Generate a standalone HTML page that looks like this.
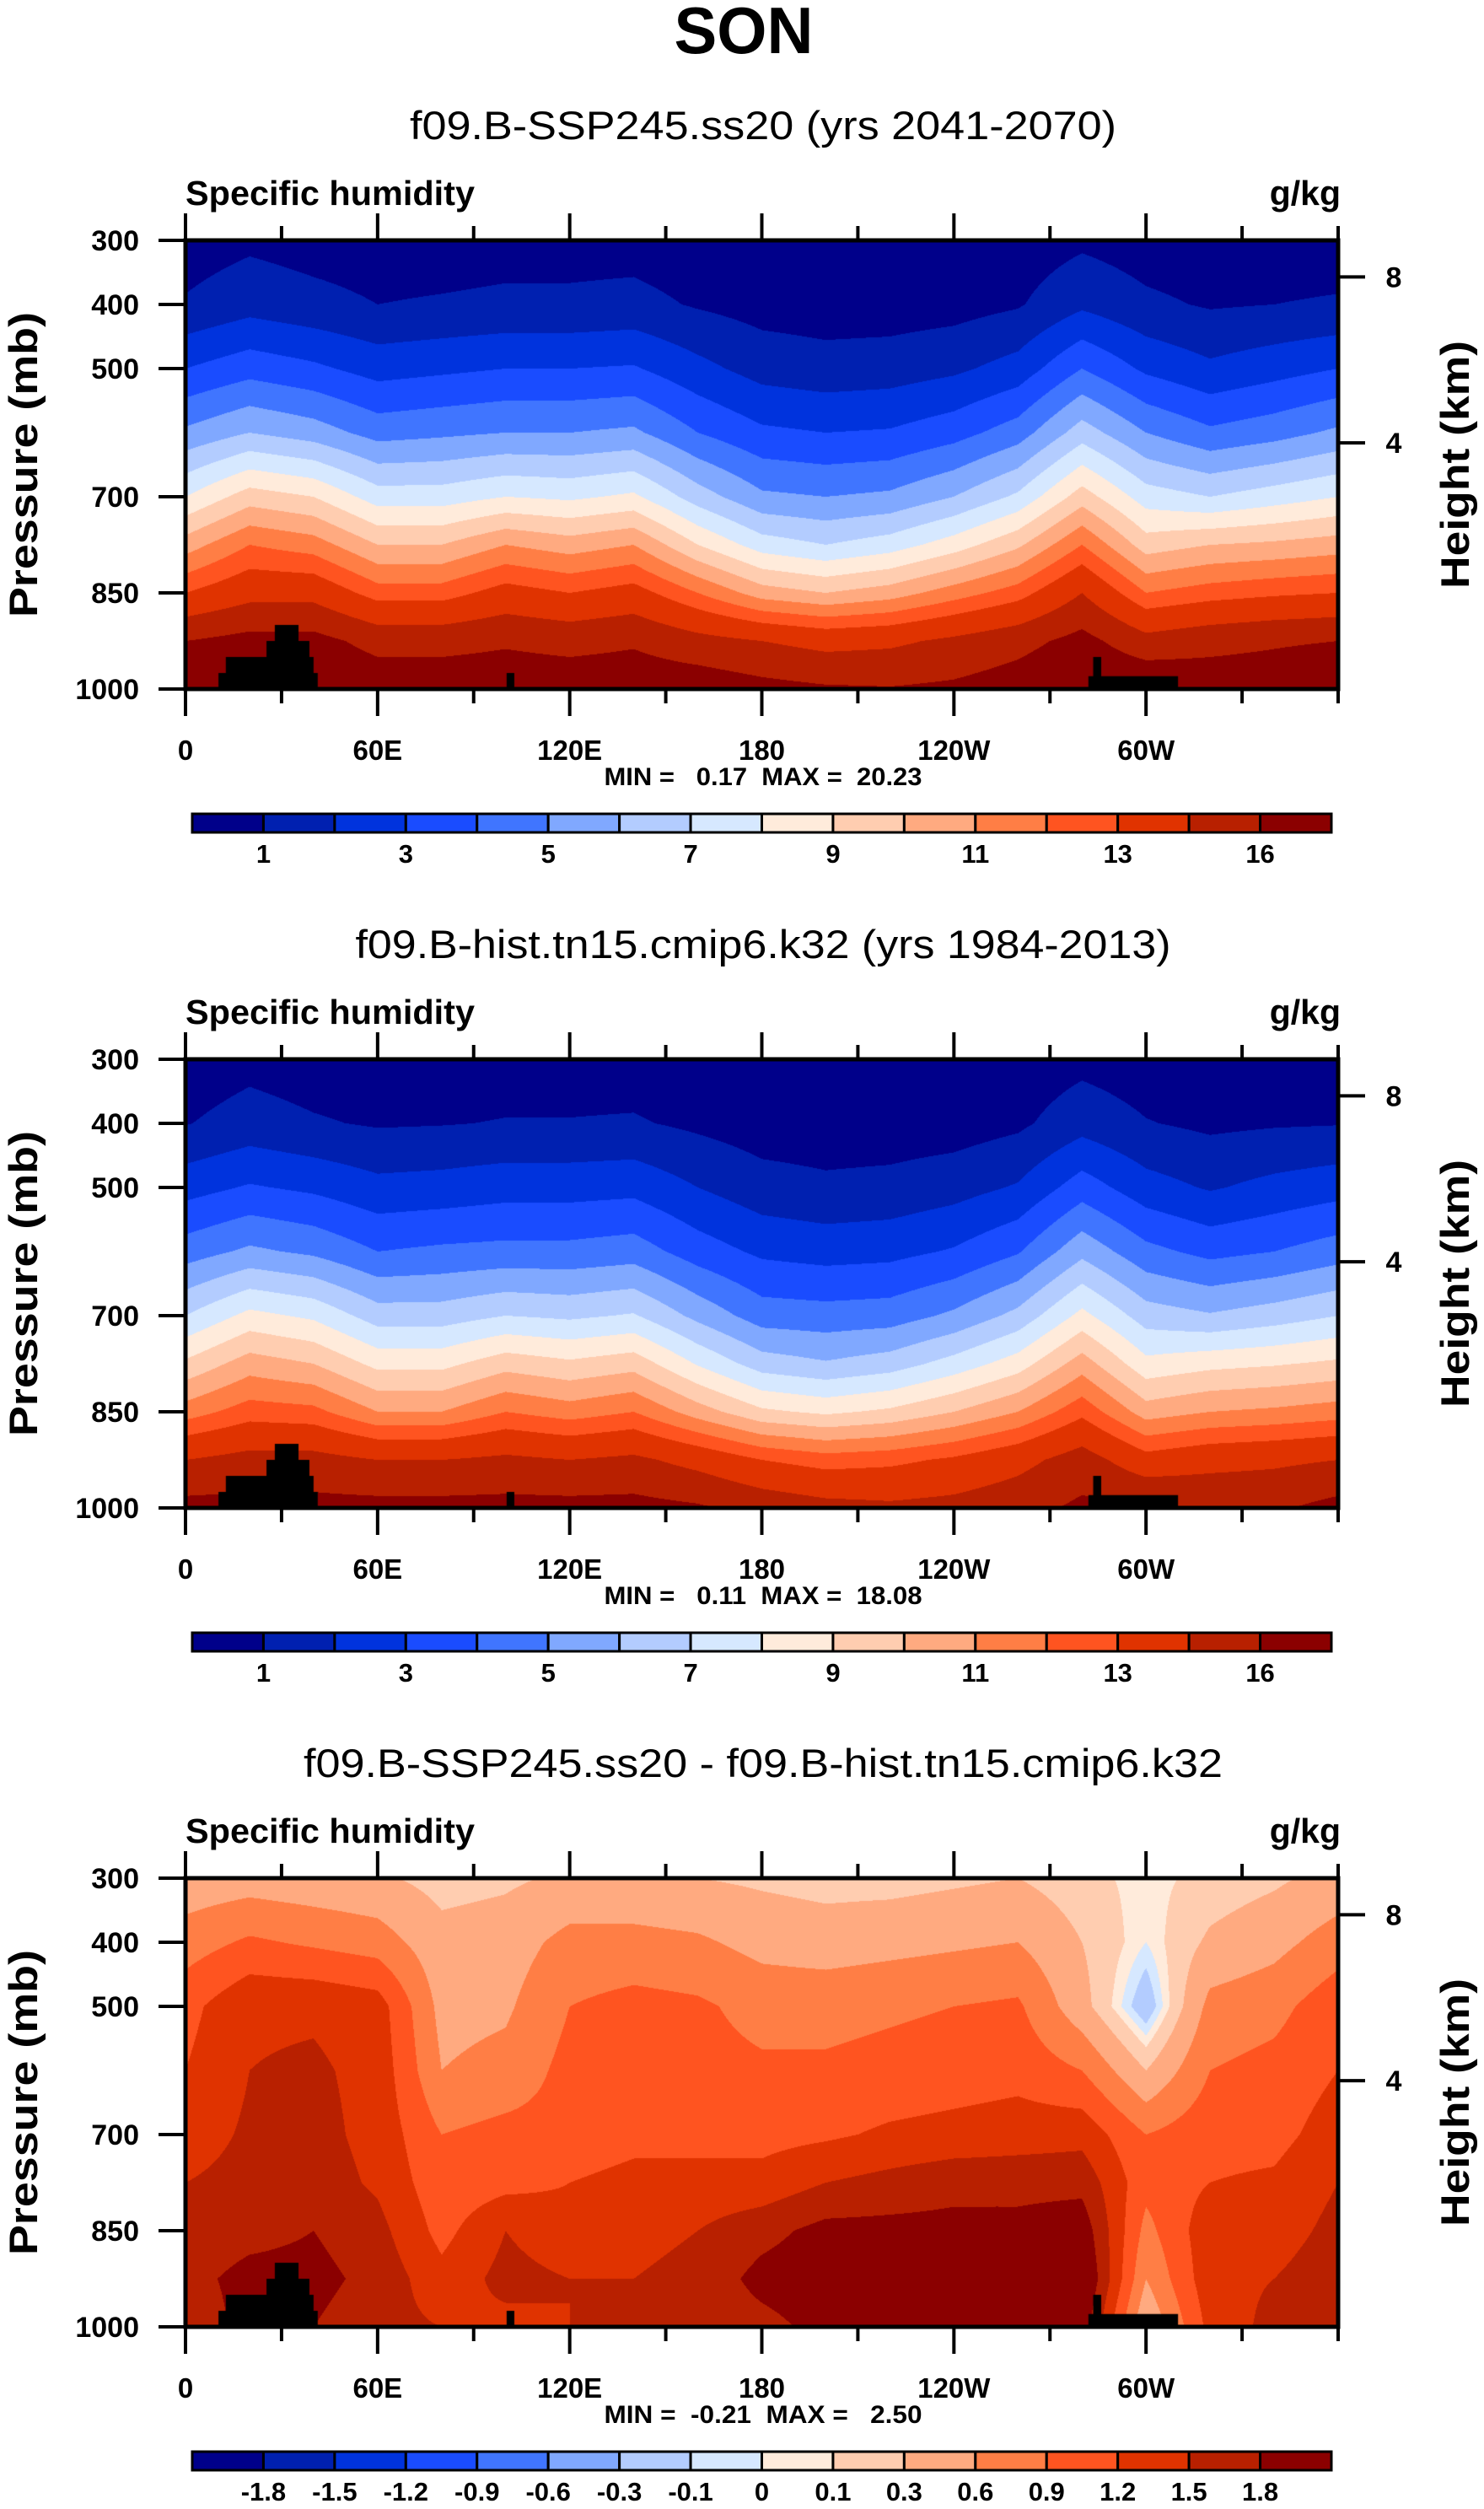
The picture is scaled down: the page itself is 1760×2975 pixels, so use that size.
<!DOCTYPE html>
<html><head><meta charset="utf-8"><title>SON Specific humidity</title>
<style>
html,body{margin:0;padding:0;background:#fff;}
#wrap{position:relative;width:1760px;height:2975px;overflow:hidden;font-family:"Liberation Sans",Arial,sans-serif;}
canvas{position:absolute;}
svg{position:absolute;left:0;top:0;}
</style></head>
<body>
<div id="wrap">
<canvas id="c0" width="1367" height="532" style="left:220px;top:285px"></canvas>
<canvas id="c1" width="1367" height="532" style="left:220px;top:1256px"></canvas>
<canvas id="c2" width="1367" height="532" style="left:220px;top:2227px"></canvas>
<svg id="ov" width="1760" height="2975"></svg>
</div>
<script>
// ---- data ----
const lonGrid = [0,20,40,60,80,100,120,140,160,180,200,220,240,260,280,300,320,340,360];
const pGrid = [300,400,500,600,700,775,850,925,1000];
const qSSP = [
[0.5,1.1,3,5.2,8,10.5,13,16,17.5],
[0.8,1.6,3.6,6,9.5,12,14,16.5,17.5],
[0.6,1.3,3.2,5.5,9,11.5,14,16.5,17.5],
[0.5,1.0,2.6,4.6,7.5,10,12.5,15.5,17],
[0.5,1.1,2.8,4.8,7.5,10,12.5,15.5,17],
[0.6,1.2,3,5,8,11,13.5,15.8,17],
[0.6,1.2,3,5,7.8,10.5,13,15.5,17],
[0.6,1.3,3.1,5.2,8.2,11,13.5,15.8,17],
[0.4,0.9,2.3,4,6.5,9,12,15,17],
[0.3,0.6,1.6,3.2,5.2,7.5,10.5,14.5,16.5],
[0.3,0.5,1.4,3,5,7,10,14,16.2],
[0.3,0.5,1.5,3.1,5.2,7.5,10.5,14.2,16.1],
[0.3,0.6,1.8,3.6,6,8.5,11.5,14.8,16.3],
[0.4,0.9,2.4,4.5,7.2,9.8,12.5,15.5,16.8],
[0.8,1.8,4,6.5,9.5,12,14.5,16.5,17.5],
[0.5,1.2,2.8,5,7.5,9.5,12,15,17.5],
[0.4,0.9,2.2,4.2,7,10,12.5,15.5,17],
[0.5,1,2.6,4.6,7.5,10.2,12.8,15.8,17],
[0.5,1.1,3,5.2,8,10.5,13,16,17.5]];
const qHist = [
[0.4,0.95,2.6,4.5,7,9.2,11.5,14.5,16.5],
[0.7,1.4,3.1,5.2,8.3,10.5,12.5,15,16.5],
[0.5,1.1,2.8,4.8,7.8,10,12.3,15,16.5],
[0.4,0.9,2.3,4,6.5,8.7,11,14.5,16.5],
[0.4,0.95,2.4,4.2,6.5,8.7,11,14.5,16.5],
[0.5,1.05,2.6,4.3,7,9.6,12,14.8,16.5],
[0.5,1.05,2.6,4.3,6.8,9.2,11.5,14.5,16.5],
[0.5,1.1,2.7,4.5,7.1,9.6,12,14.8,16.5],
[0.35,0.8,2,3.5,5.7,7.9,10.5,14,16.2],
[0.25,0.5,1.4,2.8,4.5,6.5,9.2,13,15.5],
[0.25,0.45,1.2,2.6,4.4,6.1,8.8,12.5,15],
[0.25,0.45,1.3,2.7,4.5,6.5,9.2,12.7,14.8],
[0.25,0.5,1.6,3.1,5.2,7.4,10,13.2,15],
[0.35,0.8,2.1,3.9,6.3,8.5,11,14,15.5],
[0.7,1.6,3.5,5.7,8.3,10.5,12.7,15.2,16.3],
[0.45,1.05,2.4,4.3,6.5,8.3,10.5,13.5,16.3],
[0.35,0.8,1.9,3.7,6.1,8.7,11,14,15.8],
[0.4,0.9,2.3,4,6.5,8.9,11.2,14.2,15.8],
[0.4,0.95,2.6,4.5,7,9.2,11.5,14.5,16.5]];
const qDiff = [
[0.4,0.75,1.1,1.2,1.35,1.5,1.6,1.7,1.6],
[0.45,0.95,1.45,1.5,1.55,1.6,1.7,1.9,1.9],
[0.4,0.85,1.45,1.55,1.6,1.65,1.8,1.9,1.8],
[0.35,0.75,1.35,1.4,1.4,1.45,1.6,1.7,1.6],
[0.2,0.4,0.5,0.6,0.9,1.0,1.1,1.3,1.5],
[0.25,0.45,0.55,0.7,1.0,1.1,1.5,1.6,1.4],
[0.35,0.7,0.9,1.0,1.0,1.2,1.3,1.5,1.5],
[0.35,0.7,1.0,1.0,1.1,1.3,1.4,1.5,1.5],
[0.3,0.65,0.95,1.0,1.1,1.3,1.5,1.6,1.6],
[0.25,0.5,0.8,0.95,1.1,1.3,1.7,1.9,1.7],
[0.2,0.45,0.8,0.95,1.15,1.5,1.9,2.0,1.9],
[0.2,0.5,0.85,1.0,1.25,1.6,1.9,2.1,1.9],
[0.25,0.55,0.9,1.05,1.3,1.7,1.9,2.1,1.9],
[0.3,0.6,0.95,1.1,1.35,1.7,1.9,2.0,1.8],
[0.15,0.3,0.4,0.9,1.4,1.7,2.0,2.2,2.0],
[0.05,0.0,-0.25,0.3,0.9,1.0,0.8,0.6,0.3],
[0.15,0.35,0.7,0.9,1.1,1.2,1.4,1.4,1.3],
[0.25,0.5,0.8,1.0,1.1,1.25,1.35,1.5,1.6],
[0.4,0.75,1.1,1.2,1.35,1.5,1.6,1.7,1.6]];
const levelsQ = [1,2,3,4,5,6,7,8,9,10,11,12,13,14.5,16];
const labelsQ = ["1","","3","","5","","7","","9","","11","","13","","16"];
const levelsD = [-1.8,-1.5,-1.2,-0.9,-0.6,-0.3,-0.1,0,0.1,0.3,0.6,0.9,1.2,1.5,1.8];
const labelsD = ["-1.8","-1.5","-1.2","-0.9","-0.6","-0.3","-0.1","0","0.1","0.3","0.6","0.9","1.2","1.5","1.8"];
const palette = ["#00008a","#0020b0","#0033dd","#1a4cff","#4075ff","#80a8ff","#b3ccff","#d6e8ff","#ffebdb","#ffcdb0","#ffaa80","#ff7e45","#ff5420","#e03300","#b82000","#8b0000"];
const topoStart = [10.3,12.6,25.3,27.9,100.3,282,283.5];
const topoEnd   = [41.3,40,38.7,35.3,102.7,310,286];
const topoP     = [975,950,925,900,975,980,950];
const xTickLon = [0,60,120,180,240,300];
const xTickLab = ["0","60E","120E","180","120W","60W"];
const yTickP = [300,400,500,700,850,1000];
const hTickKm = [8,4];
const hTickP = [357,616];
const titles = ["f09.B-SSP245.ss20 (yrs 2041-2070)","f09.B-hist.tn15.cmip6.k32 (yrs 1984-2013)","f09.B-SSP245.ss20 - f09.B-hist.tn15.cmip6.k32"];
const minmax = ["MIN =   0.17  MAX =  20.23","MIN =   0.11  MAX =  18.08","MIN =  -0.21  MAX =   2.50"];

// ---- geometry ----
const X0=220, W=1367, H=532, T0=285, DY=971;
const xOf = lon => X0 + lon/360*W;
const yOf = (p,k) => T0 + k*DY + (p-300)/700*H;

function hex(c){return [parseInt(c.substr(1,2),16),parseInt(c.substr(3,2),16),parseInt(c.substr(5,2),16)];}
const palRGB = palette.map(hex);

function sample(grid, lon, p){
  let fi = lon/20; let i=Math.min(Math.floor(fi),lonGrid.length-2); let u=fi-i;
  let j=0; while(j<pGrid.length-2 && p>pGrid[j+1]) j++;
  let v=(p-pGrid[j])/(pGrid[j+1]-pGrid[j]);
  const a=grid[i][j], b=grid[i+1][j], c=grid[i][j+1], d=grid[i+1][j+1];
  return (a*(1-u)+b*u)*(1-v)+(c*(1-u)+d*u)*v;
}
function render(id, grid, levels){
  const cv=document.getElementById(id), ctx=cv.getContext('2d');
  const img=ctx.createImageData(W,H);
  for(let y=0;y<H;y++){
    const p=300+(y+0.5)/H*700;
    for(let x=0;x<W;x++){
      const lon=(x+0.5)/W*360;
      const q=sample(grid,lon,p);
      let k=0; while(k<levels.length && q>=levels[k]) k++;
      const c=palRGB[k], o=(y*W+x)*4;
      img.data[o]=c[0];img.data[o+1]=c[1];img.data[o+2]=c[2];img.data[o+3]=255;
    }
  }
  ctx.putImageData(img,0,0);
  ctx.fillStyle="#000";
  for(let t=0;t<topoStart.length;t++){
    const x1=topoStart[t]/360*W, x2=topoEnd[t]/360*W, yy=(topoP[t]-300)/700*H;
    ctx.fillRect(x1,yy,x2-x1,H-yy);
  }
}
render('c0',qSSP,levelsQ);
render('c1',qHist,levelsQ);
render('c2',qDiff,levelsD);

// ---- overlay ----
const NS="http://www.w3.org/2000/svg", svg=document.getElementById('ov');
function mk(tag,attrs,parent){const e=document.createElementNS(NS,tag);for(const k in attrs)e.setAttribute(k,attrs[k]);(parent||svg).appendChild(e);return e;}
function txt(s,attrs,parent){const e=mk('text',attrs,parent);e.textContent=s;return e;}

const main=txt("SON",{x:882,y:63,"text-anchor":"middle","font-size":78,"font-weight":"bold",textLength:165,lengthAdjust:"spacingAndGlyphs"});



const widths=[838,967,1090];
for(let k=0;k<3;k++){
  const g=mk('g',{});
  
  
  const off=k*DY, top=T0+off, bot=top+H;
  const t=txt(titles[k],{x:905,y:165+off,"text-anchor":"middle","font-size":47,textLength:widths[k],lengthAdjust:"spacingAndGlyphs"},g);
  
  
  const l=txt("Specific humidity",{x:220,y:243+off,"font-size":41,"font-weight":"bold",textLength:343,lengthAdjust:"spacingAndGlyphs"},g);
  
  
  const u=txt("g/kg",{x:1590,y:243+off,"text-anchor":"end","font-size":41,"font-weight":"bold"},g);
  
  
  const fr=mk('rect',{x:X0,y:top,width:W,height:H,fill:"none",stroke:"#000","stroke-width":5},g);
  
  
  for(let lon=0;lon<=360;lon+=30){
    const major=xTickLon.indexOf(lon)>=0, len=major?32:17, x=xOf(lon);
    const a=mk('line',{x1:x,x2:x,y1:top,y2:top-len,stroke:"#000","stroke-width":4},g);
    
    
    const b=mk('line',{x1:x,x2:x,y1:bot,y2:bot+len,stroke:"#000","stroke-width":4},g);
    
    
  }
  xTickLon.forEach((lon,i)=>{
    const e=txt(xTickLab[i],{x:xOf(lon),y:bot+84,"text-anchor":"middle","font-size":33,"font-weight":"bold"},g);
    
    
  });
  yTickP.forEach(p=>{
    const y=yOf(p,k);
    const a=mk('line',{x1:X0,x2:X0-32,y1:y,y2:y,stroke:"#000","stroke-width":4},g);
    
    
    const e=txt(String(p),{x:165,y:y+12,"text-anchor":"end","font-size":34,"font-weight":"bold"},g);
    
    
  });
  hTickKm.forEach((h,i)=>{
    const y=yOf(hTickP[i],k);
    const a=mk('line',{x1:X0+W,x2:X0+W+32,y1:y,y2:y,stroke:"#000","stroke-width":4},g);
    
    
    const e=txt(String(h),{x:1653,y:y+12,"text-anchor":"middle","font-size":34,"font-weight":"bold"},g);
    
    
  });
  const cy=top+H/2;
  const yl=txt("Pressure (mb)",{x:0,y:0,"text-anchor":"middle","font-size":47,"font-weight":"bold",transform:`translate(44,${cy}) rotate(-90)`,textLength:362,lengthAdjust:"spacingAndGlyphs"},g);
  
  
  const hl=txt("Height (km)",{x:0,y:0,"text-anchor":"middle","font-size":47,"font-weight":"bold",transform:`translate(1742,${cy}) rotate(-90)`,textLength:294,lengthAdjust:"spacingAndGlyphs"},g);
  
  
  const mm=txt(minmax[k],{x:905,y:931+off,"text-anchor":"middle","font-size":30,"font-weight":"bold",style:"white-space:pre",textLength:377,lengthAdjust:"spacingAndGlyphs"},g);
  
  
  // colorbar
  const cbX=228, cbW=1351, cbY=965+off, cbH=22, bw=cbW/16;
  const labs = k<2?labelsQ:labelsD;
  for(let i=0;i<16;i++){
    const r=mk('rect',{x:cbX+i*bw,y:cbY,width:bw,height:cbH,fill:palette[i],stroke:"#000","stroke-width":3},g);
    
    
  }
  labs.forEach((s,i)=>{
    if(!s) return;
    const e=txt(s,{x:cbX+(i+1)*bw,y:cbY+58,"text-anchor":"middle","font-size":31,"font-weight":"bold"},g);
    
    
  });
}
</script>
</body></html>
